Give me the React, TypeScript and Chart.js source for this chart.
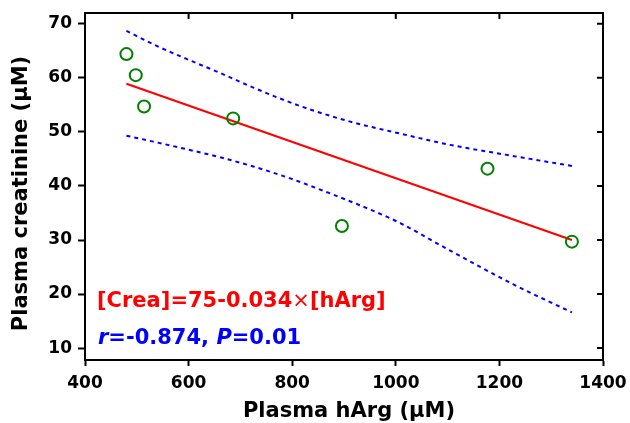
import React, { useEffect, useRef } from "react";
import { Chart, registerables } from "chart.js";

Chart.register(...registerables);

const hArg = [480, 498, 514, 686, 896, 1177, 1340];
const crea = [64.4, 60.5, 54.7, 52.5, 32.6, 43.2, 29.7];

const fitX = [480, 1340];
const fitY = [58.9, 30.0];

const upperX = [480, 532, 596, 661, 725, 815, 912, 1008, 1105, 1211, 1340];
const upperY = [68.7, 66.2, 63.5, 60.9, 58.2, 54.8, 51.9, 49.7, 47.6, 45.8, 43.7];

const lowerX = [480, 532, 596, 661, 725, 796, 879, 944, 1005, 1098, 1227, 1340];
const lowerY = [49.3, 48.2, 46.8, 45.3, 43.6, 41.4, 38.4, 35.9, 33.3, 28.4, 21.8, 16.6];

const xTicks = [400, 600, 800, 1000, 1200, 1400];
const yTicks = [10, 20, 30, 40, 50, 60, 70];

const xTitle = "Plasma hArg (μM)";
const yTitle = "Plasma creatinine (μM)";
const eqParts = ["[Crea]=75-0.034", "×", "[hArg]"];
const statParts = ["r", "=-0.874, ", "P", "=0.01"];

const FONT = "'DejaVu Sans', Verdana, sans-serif";

const pts = (xs: number[], ys: number[]) => xs.map((x, i) => ({ x, y: ys[i] }));

const framePlugin = {
  id: "frame",
  afterDraw(chart: any) {
    const { ctx, chartArea } = chart;
    const { left, right, top, bottom } = chartArea;
    const xs = chart.scales.x;
    const ys = chart.scales.y;
    ctx.save();
    ctx.strokeStyle = "#000";
    ctx.lineWidth = 2;
    ctx.beginPath();
    ctx.moveTo(left - 1, top);
    ctx.lineTo(right, top);
    ctx.lineTo(right, bottom + 1);
    ctx.stroke();
    ctx.beginPath();
    xTicks.forEach((v) => {
      const px = xs.getPixelForValue(v);
      ctx.moveTo(px, top);
      ctx.lineTo(px, top + 6);
    });
    yTicks.forEach((v) => {
      const py = ys.getPixelForValue(v);
      ctx.moveTo(right, py);
      ctx.lineTo(right - 6, py);
    });
    ctx.stroke();

    // axis titles
    ctx.fillStyle = "#000";
    ctx.font = `bold 21px ${FONT}`;
    ctx.textAlign = "center";
    ctx.textBaseline = "middle";
    ctx.fillText(xTitle, (left + right) / 2 + 5, 411.5);
    ctx.save();
    ctx.translate(21.5, (top + bottom) / 2 + 7);
    ctx.rotate(-Math.PI / 2);
    ctx.fillText(yTitle, 0, 0);
    ctx.restore();

    const drawParts = (parts: { t: string; f: string }[], x: number, y: number, color: string) => {
      ctx.fillStyle = color;
      ctx.textBaseline = "alphabetic";
      ctx.textAlign = "left";
      let cx = x;
      parts.forEach((p) => {
        ctx.font = p.f;
        ctx.fillText(p.t, cx, y);
        cx += ctx.measureText(p.t).width;
      });
    };
    const b = `bold 21px ${FONT}`;
    const n = `21px ${FONT}`;
    const bi = `italic bold 21px ${FONT}`;
    drawParts(
      [
        { t: eqParts[0], f: b },
        { t: eqParts[1], f: n },
        { t: eqParts[2], f: b },
      ],
      97,
      307,
      "#ff0000"
    );
    drawParts(
      [
        { t: statParts[0], f: bi },
        { t: statParts[1], f: b },
        { t: statParts[2], f: bi },
        { t: statParts[3], f: b },
      ],
      98,
      344,
      "#0000ff"
    );
    ctx.restore();
  },
};

export default function App() {
  const ref = useRef<HTMLCanvasElement | null>(null);
  useEffect(() => {
    document.body.style.margin = "0";
    const canvas = ref.current;
    if (!canvas) return;
    const chart = new Chart(canvas, {
      type: "scatter",
      data: {
        datasets: [
          {
            label: "data",
            data: pts(hArg, crea),
            showLine: false,
            pointStyle: "circle",
            pointRadius: 6,
            pointBorderWidth: 2,
            pointBorderColor: "#008000",
            pointBackgroundColor: "rgba(0,0,0,0)",
            borderColor: "#008000",
            backgroundColor: "rgba(0,0,0,0)",
          },
          {
            label: "fit",
            data: pts(fitX, fitY),
            showLine: true,
            pointRadius: 0,
            borderColor: "#ff0000",
            borderWidth: 2,
          },
          {
            label: "upper",
            data: pts(upperX, upperY),
            showLine: true,
            pointRadius: 0,
            borderColor: "#0000ff",
            borderWidth: 2,
            borderDash: [4, 4],
            cubicInterpolationMode: "monotone",
          },
          {
            label: "lower",
            data: pts(lowerX, lowerY),
            showLine: true,
            pointRadius: 0,
            borderColor: "#0000ff",
            borderWidth: 2,
            borderDash: [4, 4],
            cubicInterpolationMode: "monotone",
          },
        ],
      },
      options: {
        animation: false,
        responsive: true,
        maintainAspectRatio: false,
        layout: { padding: { top: 13, right: 27, left: 0, bottom: 0 } },
        plugins: {
          legend: { display: false },
          tooltip: { enabled: false },
        },
        scales: {
          x: {
            type: "linear",
            min: 400,
            max: 1400,
            afterBuildTicks: (s: any) => {
              s.ticks = xTicks.map((v) => ({ value: v }));
            },
            afterFit: (s: any) => {
              s.height = 63;
              s.paddingLeft = 0;
              s.paddingRight = 0;
            },
            ticks: {
              color: "#000",
              font: { family: FONT, size: 17, weight: "bold" },
              padding: 7,
              maxRotation: 0,
              callback: (v: any) => String(v),
            },
            grid: {
              drawOnChartArea: false,
              drawTicks: true,
              tickLength: 6,
              tickColor: "#000",
              tickWidth: 2,
            },
            border: { color: "#000", width: 2 },
            title: { display: false, text: xTitle },
          },
          y: {
            type: "linear",
            min: 7.8,
            max: 72.0,
            afterBuildTicks: (s: any) => {
              s.ticks = yTicks.map((v) => ({ value: v }));
            },
            afterFit: (s: any) => {
              s.width = 85;
              s.paddingTop = 0;
              s.paddingBottom = 0;
            },
            ticks: {
              color: "#000",
              font: { family: FONT, size: 17, weight: "bold" },
              padding: 6,
              callback: (v: any) => String(v),
            },
            grid: {
              drawOnChartArea: false,
              drawTicks: true,
              tickLength: 7,
              tickColor: "#000",
              tickWidth: 2,
            },
            border: { color: "#000", width: 2 },
            title: { display: false, text: yTitle },
          },
        },
      },
      plugins: [framePlugin],
    });
    return () => chart.destroy();
  }, []);
  return (
    <div style={{ position: "relative", width: 630, height: 423 }}>
      <canvas ref={ref} />
    </div>
  );
}
